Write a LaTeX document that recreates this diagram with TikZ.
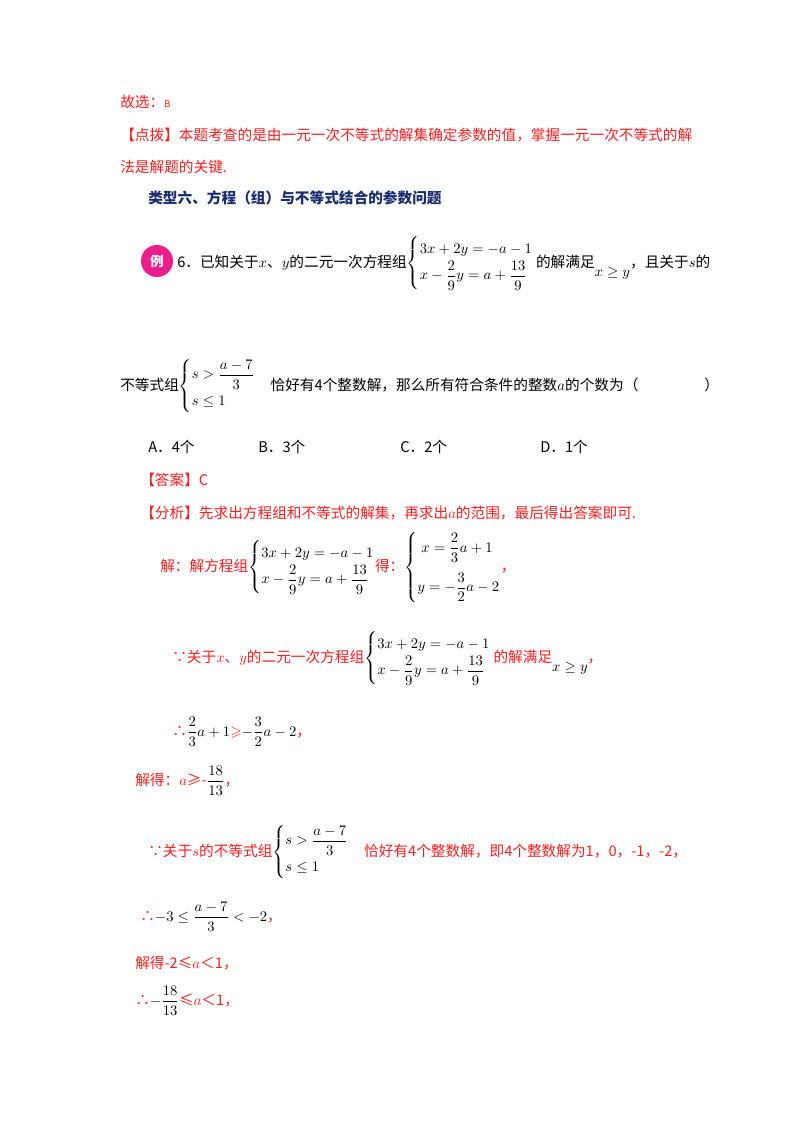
\documentclass[tikz,border=0pt]{standalone}
\usepackage{amsmath,amssymb}
\usepackage{fontspec}
\setmainfont{Liberation Serif}
\newfontfamily\cjk{Noto Sans CJK SC}
\definecolor{rd}{RGB}{250,30,30}
\definecolor{hb}{RGB}{25,45,110}
\definecolor{pk}{RGB}{235,30,140}
\newcommand\mysys[1]{\left\{\renewcommand\arraystretch{1.5}\begin{array}{@{}l@{}}#1\end{array}\right.}
\begin{document}
\begin{tikzpicture}[x=0.75pt,y=-0.75pt,
  t/.style={anchor=base west,inner sep=0pt,font=\fontsize{11}{12}\selectfont\cjk},
  r/.style={t,text=rd}]
\useasboundingbox (0,0) rectangle (800,1132);
\node[r] (n1) at (120,107) {故选：\textit{\scriptsize B}};
\node[r] (n2) at (120,140) {【点拨】本题考查的是由一元一次不等式的解集确定参数的值，掌握一元一次不等式的解};
\node[r] (n3) at (120,172) {法是解题的关键.};
\node[t,text=hb,font=\fontsize{11}{12}\selectfont\cjk\bfseries] (h) at (148,203) {类型六、方程（组）与不等式结合的参数问题};
\node[circle,fill=pk,minimum size=24,inner sep=0pt,text=white,font=\fontsize{10}{12}\selectfont\cjk\bfseries] (ic) at (157,261) {例};
\node[t] (q1) at (177,267) {6．已知关于$x$、$y$的二元一次方程组$\mysys{3x+2y=-a-1\\ x-\dfrac29y=a+\dfrac{13}{9}}$\,的解满足\raisebox{-2.5mm}{$x\ge y$}，且关于$s$的};
\node[t] (q2) at (120,390) {不等式组$\mysys{s>\dfrac{a-7}{3}\\[2pt] s\le1}$\quad 恰好有4个整数解，那么所有符合条件的整数$a$的个数为（\hspace{4.5em}）};
\node[t] (oa) at (148,452) {A．4个};
\node[t] (ob) at (258,452) {B．3个};
\node[t] (oc) at (400,452) {C．2个};
\node[t] (od) at (540,452) {D．1个};
\node[r] (ans) at (140,485) {【答案】C};
\node[r] (fx) at (140,518) {【分析】先求出方程组和不等式的解集，再求出$a$的范围，最后得出答案即可.};
\node[r] (s1) at (160,571) {解：解方程组\textcolor{black}{$\mysys{3x+2y=-a-1\\ x-\dfrac29y=a+\dfrac{13}{9}}$}得：\textcolor{black}{$\mysys{\;x=\dfrac23a+1\\[10pt] y=-\dfrac32a-2}$}，};
\node[r] (s2) at (172,662) {∵关于$x$、$y$的二元一次方程组\textcolor{black}{$\mysys{3x+2y=-a-1\\ x-\dfrac29y=a+\dfrac{13}{9}}$}\,的解满足\raisebox{-2.5mm}{\textcolor{black}{$x\ge y$}}，};
\node[r] (s3) at (172,736) {∴\textcolor{black}{$\dfrac23a+1$}$\geqslant$\textcolor{black}{$-\dfrac32a-2$}，};
\node[r] (s4) at (135,785) {解得：$a$≥-\textcolor{black}{$\dfrac{18}{13}$}，};
\node[r] (s5) at (148,856) {∵关于$s$的不等式组\textcolor{black}{$\mysys{s>\dfrac{a-7}{3}\\[2pt] s\le1}$}\quad 恰好有4个整数解，即4个整数解为1，0，-1，-2，};
\node[r] (s6) at (140,921) {∴\textcolor{black}{$-3\le\dfrac{a-7}{3}<-2$}，};
\node[r] (s7) at (135,968) {解得-2≤$a$＜1，};
\node[r] (s8) at (135,1005) {∴\textcolor{black}{$-\dfrac{18}{13}$}≤$a$＜1，};
\end{tikzpicture}
\end{document}
